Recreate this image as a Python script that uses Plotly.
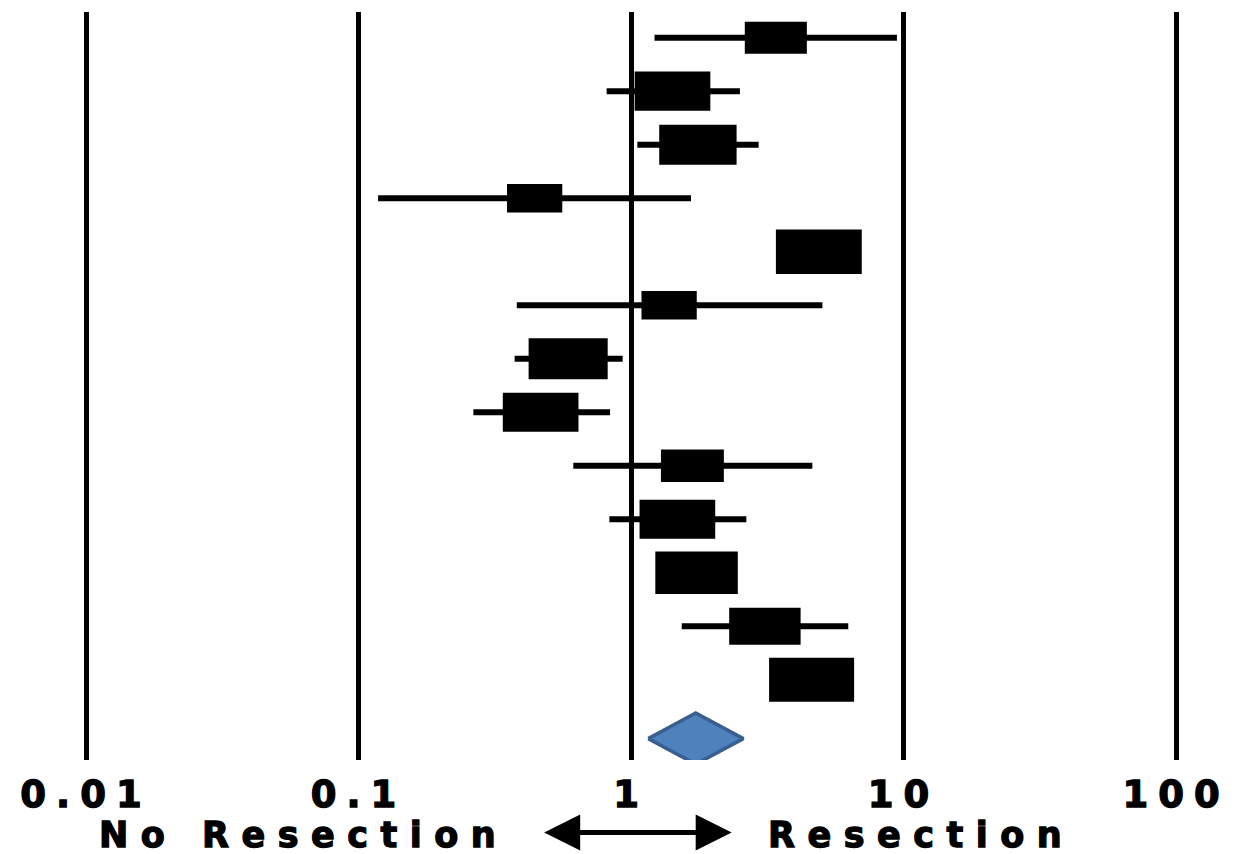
import plotly.graph_objects as go

# ---- data ----
odds_ratio = [3.40, 1.42, 1.76, 0.443, 4.89, 1.38, 0.588, 0.466, 1.68, 1.48, 1.74, 3.10, 4.60]
ci_low = [1.22, 0.814, 1.055, 0.118, 3.60, 0.381, 0.374, 0.264, 0.614, 0.833, 1.30, 1.535, 3.40]
ci_high = [9.46, 2.51, 2.94, 1.66, 6.60, 5.04, 0.932, 0.838, 4.63, 2.65, 2.35, 6.27, 6.20]
weights = [0.73, 0.89, 0.91, 0.65, 1.01, 0.65, 0.93, 0.89, 0.74, 0.89, 0.97, 0.84, 1.00]
pooled_or = 1.728
pooled_low = 1.157
pooled_high = 2.584
tick_values = [0.01, 0.1, 1, 10, 100]
tick_labels = ["0.01", "0.1", "1", "10", "100"]
left_label = "No Resection"
right_label = "Resection"

# ---- styling constants ----
BOX_HALF_W = 0.156   # decades per unit weight
BOX_HALF_H = 0.411   # row units per unit weight
POOLED_ROW_GAP = 1.1
DIAMOND_HALF_H = 0.479
FONT = "DejaVu Sans"

n = len(odds_ratio)
rows = list(range(1, n + 1))

fig = go.Figure()

# whiskers
wx, wy = [], []
for r, lo, hi in zip(rows, ci_low, ci_high):
    wx += [lo, hi, None]
    wy += [r, r, None]
fig.add_trace(go.Scatter(x=wx, y=wy, mode="lines",
                         line=dict(color="black", width=6),
                         hoverinfo="skip", showlegend=False))

# boxes
for r, o, w in zip(rows, odds_ratio, weights):
    f = 10 ** (BOX_HALF_W * w)
    fig.add_shape(type="rect", xref="x", yref="y",
                  x0=o / f, x1=o * f,
                  y0=r - BOX_HALF_H * w, y1=r + BOX_HALF_H * w,
                  fillcolor="black", line=dict(width=0), layer="above")

# pooled diamond
yp = n + POOLED_ROW_GAP
fig.add_trace(go.Scatter(
    x=[pooled_low, pooled_or, pooled_high, pooled_or, pooled_low],
    y=[yp, yp - DIAMOND_HALF_H, yp, yp + DIAMOND_HALF_H, yp],
    mode="lines", fill="toself", fillcolor="#4F81BD",
    line=dict(color="#3A5F8E", width=3.5),
    hoverinfo="skip", showlegend=False))

heavy = "stroke:#000;stroke-width:1.3px;letter-spacing:{}px"
tick_text = ['<span style="%s">%s</span>' % (heavy.format(10), t) for t in tick_labels]

fig.update_layout(
    width=1242, height=854,
    margin=dict(l=0, r=0, t=12, b=94),
    paper_bgcolor="white", plot_bgcolor="white",
    showlegend=False,
    xaxis=dict(type="log", range=[-2.3156, 2.2422],
               tickvals=tick_values, ticktext=tick_text,
               showgrid=True, gridcolor="black", gridwidth=4.5,
               zeroline=False, showline=False, ticks="",
               ticklabelstandoff=9,
               tickfont=dict(family=FONT, size=37, color="black", weight="bold")),
    yaxis=dict(range=[14.50, 0.52], visible=False, showgrid=False, zeroline=False),
)

lab_y = (760 - 835) / 748
fig.add_annotation(xref="paper", yref="paper", x=303 / 1242, y=lab_y,
                   text='<span style="%s">%s</span>' % (heavy.format(12.5), left_label),
                   showarrow=False, xanchor="center", yanchor="middle",
                   font=dict(family=FONT, size=35, color="black", weight="bold"))
fig.add_annotation(xref="paper", yref="paper", x=921 / 1242, y=lab_y,
                   text='<span style="%s">%s</span>' % (heavy.format(12.5), right_label),
                   showarrow=False, xanchor="center", yanchor="middle",
                   font=dict(family=FONT, size=35, color="black", weight="bold"))
# double-headed arrow
fig.add_annotation(xref="paper", yref="paper", x=731.7 / 1242, y=(760 - 832.5) / 748,
                   axref="pixel", ayref="pixel", ax=-189, ay=0,
                   text=" ", font=dict(size=1),
                   showarrow=True, arrowside="end+start",
                   arrowhead=2, startarrowhead=2,
                   arrowsize=1.44, startarrowsize=1.44,
                   arrowwidth=5, arrowcolor="black",
                   standoff=0, startstandoff=0)

fig.write_html("out.html")
